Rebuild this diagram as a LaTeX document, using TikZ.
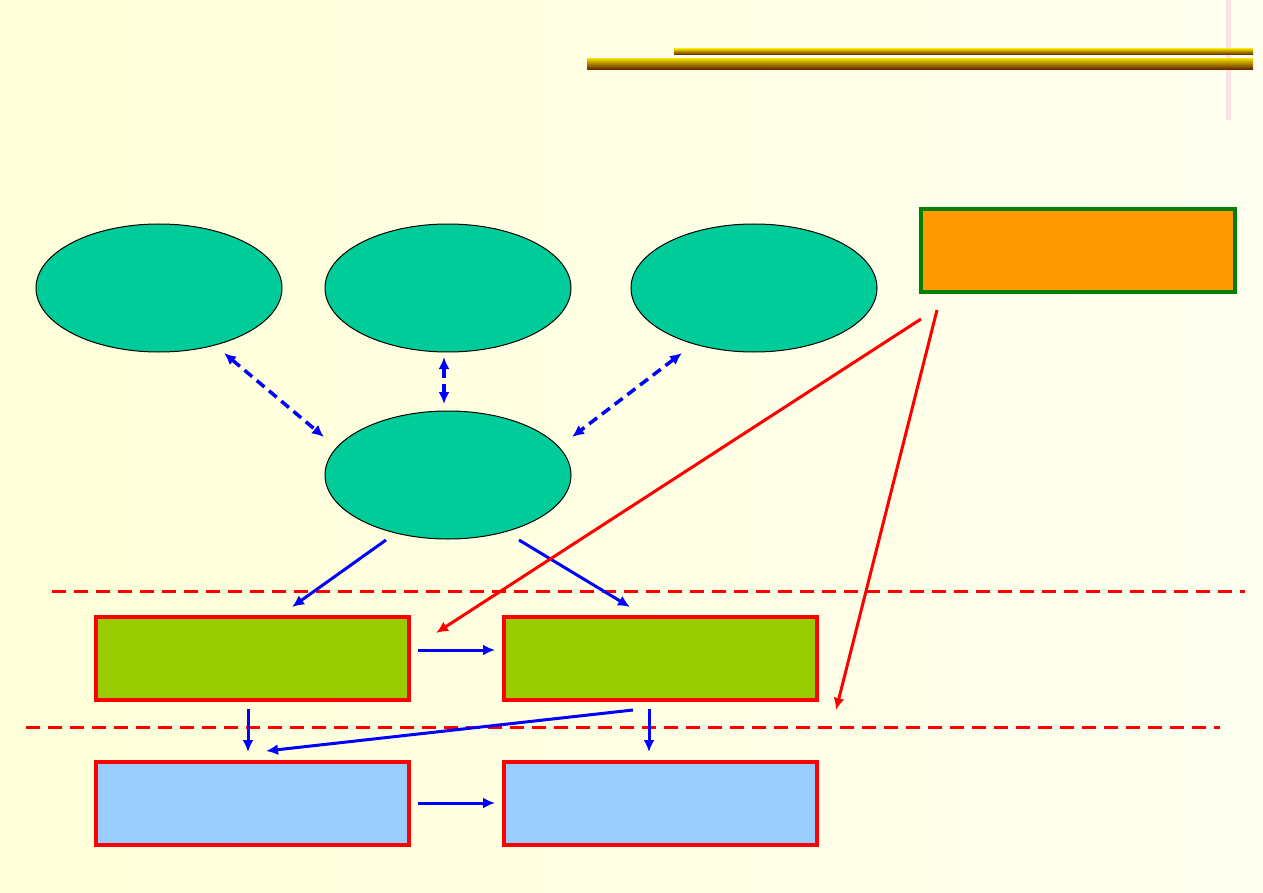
\documentclass[tikz,border=0pt]{standalone}
\usetikzlibrary{shapes.geometric,arrows.meta}
\begin{document}
\begin{tikzpicture}[x=1pt,y=-1pt,
  oval/.style={ellipse,draw=black,line width=1pt,fill=ovalfill,minimum width=246pt,minimum height=128pt,inner sep=0pt},
  greenbox/.style={rectangle,draw=red,line width=3.5pt,fill=greenfill,minimum width=313pt,minimum height=83pt,inner sep=0pt},
  bluebox/.style={rectangle,draw=red,line width=3.5pt,fill=bluefill,minimum width=313pt,minimum height=83pt,inner sep=0pt},
  orangebox/.style={rectangle,draw=boxgreen,line width=3.5pt,fill=orangefill,minimum width=314pt,minimum height=83pt,inner sep=0pt},
  dasharrow/.style={draw=blue,line width=3.5pt,dash pattern=on 10pt off 6pt,{Latex[length=12pt,width=11pt]}-{Latex[length=12pt,width=11pt]}},
  bluearrow/.style={draw=blue,line width=3pt,-{Latex[length=12pt,width=11pt]}},
  redarrow/.style={draw=red,line width=3pt,-{Latex[length=12pt,width=11pt]}},
  reddash/.style={draw=red,line width=3pt,dash pattern=on 14pt off 8pt},
  bar/.style={top color=barTop,bottom color=barBot,draw=none}
]
\definecolor{ovalfill}{HTML}{00CC99}
\definecolor{greenfill}{HTML}{99CC00}
\definecolor{bluefill}{HTML}{99CCFF}
\definecolor{orangefill}{HTML}{FF9900}
\definecolor{boxgreen}{HTML}{008000}
\definecolor{barTop}{HTML}{E8D000}
\definecolor{barBot}{HTML}{5A1A00}
\definecolor{bgA}{HTML}{FFFFD8}
\definecolor{bgB}{HTML}{FFFFF0}
\definecolor{pinkline}{HTML}{FBE3E3}
% background
\useasboundingbox (0,0) rectangle (1263,893);
\shade[left color=bgA,right color=bgB,draw=none] (0,0) rectangle (1263,893);
% title bars
\fill[pinkline] (1226,0) rectangle (1231,120);
\shade[bar] (674,49) rectangle (1253,55);
\shade[bar] (587,59) rectangle (1253,70);
% ellipses
\node[oval] (e1) at (159,288) {};
\node[oval] (e2) at (448,288) {};
\node[oval] (e3) at (754,288) {};
\node[oval] (e4) at (448,475) {};
% orange box
\node[orangebox] (o) at (1078,250.5) {};
% green boxes
\node[greenbox] (g1) at (252.5,658.5) {};
\node[greenbox] (g2) at (660.5,658.5) {};
% blue boxes
\node[bluebox] (b1) at (252.5,803.5) {};
\node[bluebox] (b2) at (660.5,803.5) {};
% dashed red separators
\coordinate (s1a) at (52,591); \coordinate (s1b) at (1245,591);
\coordinate (s2a) at (26,727); \coordinate (s2b) at (1220,727);
\draw[reddash] (s1a) -- (s1b);
\draw[reddash] (s2a) -- (s2b);
% arrow end coordinates
\coordinate (d1a) at (224,353); \coordinate (d1b) at (324,437);
\coordinate (d2a) at (444,357); \coordinate (d2b) at (444,404);
\coordinate (d3a) at (682,353); \coordinate (d3b) at (572,437);
\coordinate (a1s) at (386,540); \coordinate (a1e) at (292,607);
\coordinate (a2s) at (519,540); \coordinate (a2e) at (630,607);
\coordinate (a3s) at (418,650); \coordinate (a3e) at (495,650);
\coordinate (a4s) at (248,709); \coordinate (a4e) at (248,752);
\coordinate (a5s) at (633,710); \coordinate (a5e) at (266,751);
\coordinate (a6s) at (649,709); \coordinate (a6e) at (649,752);
\coordinate (a7s) at (418,803); \coordinate (a7e) at (495,803);
\coordinate (r1s) at (921,319); \coordinate (r1e) at (436,633);
\coordinate (r2s) at (937,310); \coordinate (r2e) at (836,710);
% dashed double arrows
\draw[dasharrow] (d1a) -- (d1b);
\draw[dasharrow] (d2a) -- (d2b);
\draw[dasharrow] (d3a) -- (d3b);
% blue arrows
\draw[bluearrow] (a1s) -- (a1e);
\draw[bluearrow] (a2s) -- (a2e);
\draw[bluearrow] (a3s) -- (a3e);
\draw[bluearrow] (a4s) -- (a4e);
\draw[bluearrow] (a5s) -- (a5e);
\draw[bluearrow] (a6s) -- (a6e);
\draw[bluearrow] (a7s) -- (a7e);
% red arrows
\draw[redarrow] (r1s) -- (r1e);
\draw[redarrow] (r2s) -- (r2e);
\end{tikzpicture}
\end{document}
